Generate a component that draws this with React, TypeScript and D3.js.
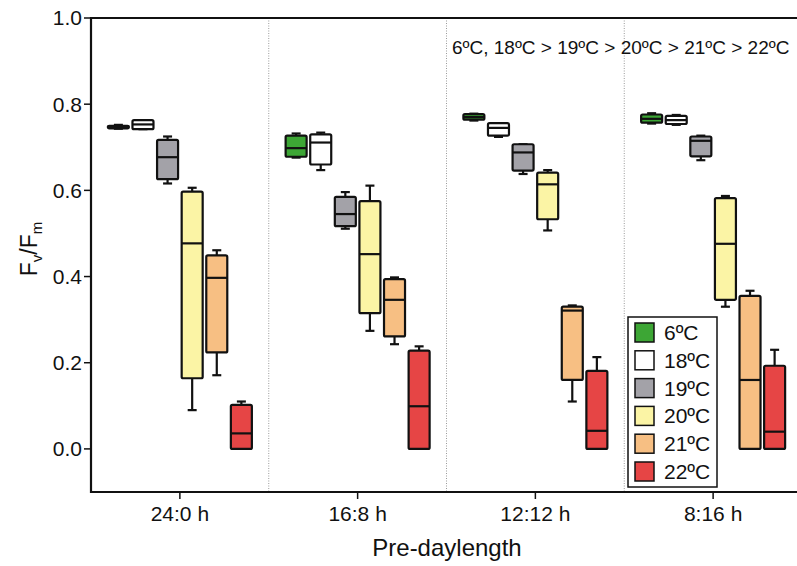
import { useEffect } from "react";
import * as d3 from "d3";

const periods = ["24:0 h", "16:8 h", "12:12 h", "8:16 h"];
const temps = ["6ºC", "18ºC", "19ºC", "20ºC", "21ºC", "22ºC"];
const colors = ["#3da635", "#ffffff", "#a3a2a8", "#fbf4a5", "#f7bf83", "#e64545"];

// [whisker low, q1, median, q3, whisker high] per temperature
const stats24_0 = [
  [0.743, 0.744, 0.747, 0.75, 0.752],
  [0.742, 0.742, 0.753, 0.763, 0.763],
  [0.616, 0.626, 0.677, 0.717, 0.725],
  [0.09, 0.164, 0.477, 0.597, 0.606],
  [0.171, 0.224, 0.397, 0.449, 0.461],
  [0.0, 0.0, 0.036, 0.102, 0.11],
];
const stats16_8 = [
  [0.676, 0.678, 0.698, 0.727, 0.732],
  [0.647, 0.66, 0.711, 0.73, 0.734],
  [0.511, 0.517, 0.545, 0.585, 0.596],
  [0.274, 0.315, 0.452, 0.575, 0.611],
  [0.243, 0.261, 0.346, 0.394, 0.398],
  [0.0, 0.0, 0.099, 0.228, 0.238],
];
const stats12_12 = [
  [0.762, 0.764, 0.77, 0.777, 0.778],
  [0.724, 0.727, 0.745, 0.756, 0.756],
  [0.638, 0.646, 0.688, 0.707, 0.707],
  [0.507, 0.533, 0.614, 0.641, 0.647],
  [0.11, 0.16, 0.321, 0.33, 0.333],
  [0.0, 0.0, 0.042, 0.181, 0.213],
];
const stats8_16 = [
  [0.755, 0.757, 0.766, 0.776, 0.779],
  [0.752, 0.754, 0.763, 0.773, 0.775],
  [0.67, 0.679, 0.715, 0.725, 0.727],
  [0.33, 0.346, 0.476, 0.582, 0.587],
  [0.0, 0.0, 0.16, 0.355, 0.367],
  [0.0, 0.0, 0.04, 0.193, 0.23],
];
const allStats = [stats24_0, stats16_8, stats12_12, stats8_16];
const yTicks = [0.0, 0.2, 0.4, 0.6, 0.8, 1.0];
const note = "6ºC, 18ºC > 19ºC > 20ºC > 21ºC > 22ºC";

const W = 797;
const H = 566;
const font = "'Liberation Sans', Arial, sans-serif";

export default function App() {
  useEffect(() => {
    document.body.style.margin = "0";
  }, []);

  const left = 91;
  const right = 802;
  const top = 18;
  const bottom = 492;

  const x = d3.scaleBand().domain(periods).range([left, right]);
  const inner = d3.scaleBand().domain(temps).range([-72, 72]).paddingInner(0.146);
  const y = d3.scaleLinear().domain([-0.1, 1.0]).range([bottom, top]);
  const bw = inner.bandwidth();
  const capHalf = 4.5;

  return (
    <svg width={W} height={H} style={{ display: "block", fontFamily: font }}>
      <rect width={W} height={H} fill="#fff" />

      {/* group separators */}
      {periods.slice(1).map((p) => (
        <line
          key={p}
          x1={x(p)}
          x2={x(p)}
          y1={top}
          y2={bottom}
          stroke="#9a9a9a"
          strokeWidth={1}
          strokeDasharray="1,1.5"
        />
      ))}

      {/* boxes */}
      {periods.map((p, gi) => {
        const cx = (x(p) as number) + x.bandwidth() / 2;
        return (
          <g key={p}>
            {allStats[gi].map((s, ti) => {
              const [lo, q1, med, q3, hi] = s;
              const bx = cx + (inner(temps[ti]) as number);
              const mx = bx + bw / 2;
              return (
                <g key={ti} stroke="#111" strokeWidth={2.2} strokeLinejoin="round">
                  <line x1={mx} x2={mx} y1={y(q3)} y2={y(hi)} />
                  <line x1={mx - capHalf} x2={mx + capHalf} y1={y(hi)} y2={y(hi)} />
                  <line x1={mx} x2={mx} y1={y(q1)} y2={y(lo)} />
                  <line x1={mx - capHalf} x2={mx + capHalf} y1={y(lo)} y2={y(lo)} />
                  <rect
                    x={bx}
                    y={y(q3)}
                    width={bw}
                    height={Math.max(1, y(q1) - y(q3))}
                    rx={1.5}
                    fill={colors[ti]}
                  />
                  <line x1={bx} x2={bx + bw} y1={y(med)} y2={y(med)} />
                </g>
              );
            })}
          </g>
        );
      })}

      {/* frame */}
      <line x1={left} x2={W} y1={top} y2={top} stroke="#111" strokeWidth={2.2} />
      <line x1={left} x2={left} y1={top - 1} y2={bottom + 1} stroke="#111" strokeWidth={2.2} />
      <line x1={left - 1} x2={W} y1={bottom} y2={bottom} stroke="#111" strokeWidth={2.2} />

      {/* y axis */}
      {yTicks.map((t) => (
        <g key={t}>
          <line x1={left - 7} x2={left} y1={y(t)} y2={y(t)} stroke="#111" strokeWidth={1.5} />
          <text
            x={left - 9}
            y={y(t)}
            dy="0.35em"
            textAnchor="end"
            fontSize={21}
            fill="#111"
          >
            {t.toFixed(1)}
          </text>
        </g>
      ))}

      {/* x axis */}
      {periods.map((p) => {
        const cx = (x(p) as number) + x.bandwidth() / 2;
        return (
          <g key={p}>
            <line x1={cx} x2={cx} y1={bottom} y2={bottom + 7} stroke="#111" strokeWidth={1.5} />
            <text x={cx} y={521} textAnchor="middle" fontSize={21} fill="#111">
              {p}
            </text>
          </g>
        );
      })}

      <text x={447} y={556} textAnchor="middle" fontSize={24} fill="#111">
        Pre-daylength
      </text>
      <text
        transform={`translate(37,249) rotate(-90)`}
        textAnchor="middle"
        fontSize={23}
        fill="#111"
      >
        F<tspan fontSize={15} dy={5}>v</tspan>
        <tspan dy={-5}>/F</tspan>
        <tspan fontSize={15} dy={5}>m</tspan>
      </text>

      <text x={452} y={54} fontSize={19} fill="#111">
        {note}
      </text>

      {/* legend */}
      <g>
        <rect x={628} y={317} width={89} height={170} fill="#fff" stroke="#111" strokeWidth={1.5} />
        {temps.map((t, i) => {
          const cy = 332.5 + i * 27.8;
          return (
            <g key={t}>
              <rect
                x={635}
                y={cy - 9.5}
                width={19}
                height={19}
                fill={colors[i]}
                stroke="#111"
                strokeWidth={1.5}
              />
              <text x={664} y={cy} dy="0.36em" fontSize={21} fill="#111">
                {t}
              </text>
            </g>
          );
        })}
      </g>
    </svg>
  );
}
